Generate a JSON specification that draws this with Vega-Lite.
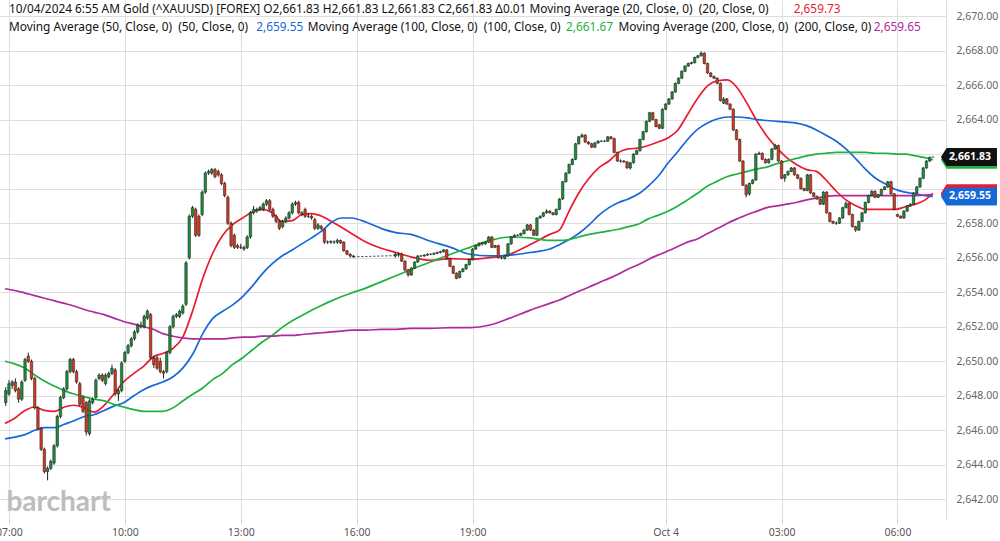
{
"$schema":"https://vega.github.io/schema/vega-lite/v6.json",
"width":946,"height":519,"autosize":"none",
"padding":{"left":0,"top":0,"right":54,"bottom":22},
"background":"white",
"config":{"view":{"stroke":null},"font":"Noto Sans"},
"datasets":{
"candles":[
{"t":"2024-10-03T06:55","o":2647.6,"h":2648.5,"l":2647.4,"c":2648.3},
{"t":"2024-10-03T07:00","o":2648.1,"h":2648.9,"l":2648.0,"c":2648.7},
{"t":"2024-10-03T07:05","o":2648.6,"h":2648.9,"l":2648.4,"c":2648.8},
{"t":"2024-10-03T07:10","o":2648.8,"h":2649.0,"l":2648.2,"c":2648.3},
{"t":"2024-10-03T07:15","o":2648.4,"h":2648.5,"l":2647.6,"c":2647.8},
{"t":"2024-10-03T07:20","o":2647.8,"h":2648.9,"l":2647.7,"c":2648.8},
{"t":"2024-10-03T07:25","o":2648.9,"h":2650.2,"l":2648.8,"c":2650.1},
{"t":"2024-10-03T07:30","o":2650.3,"h":2650.5,"l":2649.9,"c":2650.0},
{"t":"2024-10-03T07:35","o":2650.0,"h":2650.1,"l":2648.9,"c":2649.0},
{"t":"2024-10-03T07:40","o":2649.0,"h":2649.1,"l":2647.2,"c":2647.3},
{"t":"2024-10-03T07:45","o":2647.3,"h":2647.4,"l":2646.0,"c":2646.1},
{"t":"2024-10-03T07:50","o":2646.1,"h":2646.2,"l":2644.8,"c":2644.9},
{"t":"2024-10-03T07:55","o":2644.9,"h":2645.0,"l":2643.5,"c":2643.6},
{"t":"2024-10-03T08:00","o":2643.6,"h":2643.9,"l":2643.1,"c":2643.8},
{"t":"2024-10-03T08:05","o":2643.8,"h":2644.3,"l":2643.7,"c":2644.2},
{"t":"2024-10-03T08:10","o":2644.1,"h":2645.2,"l":2644.0,"c":2645.1},
{"t":"2024-10-03T08:15","o":2645.1,"h":2646.9,"l":2645.0,"c":2646.8},
{"t":"2024-10-03T08:20","o":2646.8,"h":2648.0,"l":2646.7,"c":2647.9},
{"t":"2024-10-03T08:25","o":2647.9,"h":2648.5,"l":2647.8,"c":2648.4},
{"t":"2024-10-03T08:30","o":2648.4,"h":2649.5,"l":2648.3,"c":2649.4},
{"t":"2024-10-03T08:35","o":2649.4,"h":2650.2,"l":2649.3,"c":2650.1},
{"t":"2024-10-03T08:40","o":2650.1,"h":2650.2,"l":2649.3,"c":2649.4},
{"t":"2024-10-03T08:45","o":2649.4,"h":2649.5,"l":2648.7,"c":2648.8},
{"t":"2024-10-03T08:50","o":2648.7,"h":2648.8,"l":2647.4,"c":2647.5},
{"t":"2024-10-03T08:55","o":2647.9,"h":2648.0,"l":2647.0,"c":2647.1},
{"t":"2024-10-03T09:00","o":2647.6,"h":2647.7,"l":2645.7,"c":2645.9},
{"t":"2024-10-03T09:05","o":2645.8,"h":2647.8,"l":2645.7,"c":2647.7},
{"t":"2024-10-03T09:10","o":2647.6,"h":2647.9,"l":2647.5,"c":2647.8},
{"t":"2024-10-03T09:15","o":2647.9,"h":2649.0,"l":2647.8,"c":2648.9},
{"t":"2024-10-03T09:20","o":2649.0,"h":2649.3,"l":2648.9,"c":2649.2},
{"t":"2024-10-03T09:25","o":2649.2,"h":2649.3,"l":2648.8,"c":2648.9},
{"t":"2024-10-03T09:30","o":2648.7,"h":2649.3,"l":2648.6,"c":2649.2},
{"t":"2024-10-03T09:35","o":2649.1,"h":2649.4,"l":2649.0,"c":2649.3},
{"t":"2024-10-03T09:40","o":2649.3,"h":2649.8,"l":2649.2,"c":2649.6},
{"t":"2024-10-03T09:45","o":2649.5,"h":2649.6,"l":2648.0,"c":2648.1},
{"t":"2024-10-03T09:50","o":2648.1,"h":2648.4,"l":2647.7,"c":2648.3},
{"t":"2024-10-03T09:55","o":2648.3,"h":2650.0,"l":2648.2,"c":2649.9},
{"t":"2024-10-03T10:00","o":2650.0,"h":2650.6,"l":2649.9,"c":2650.5},
{"t":"2024-10-03T10:05","o":2650.5,"h":2651.0,"l":2650.4,"c":2650.9},
{"t":"2024-10-03T10:10","o":2650.9,"h":2651.4,"l":2650.8,"c":2651.3},
{"t":"2024-10-03T10:15","o":2651.3,"h":2651.8,"l":2651.2,"c":2651.7},
{"t":"2024-10-03T10:20","o":2651.7,"h":2652.2,"l":2651.6,"c":2652.1},
{"t":"2024-10-03T10:25","o":2652.1,"h":2652.3,"l":2651.9,"c":2652.0},
{"t":"2024-10-03T10:30","o":2652.0,"h":2652.7,"l":2651.9,"c":2652.6},
{"t":"2024-10-03T10:35","o":2652.5,"h":2653.0,"l":2652.4,"c":2652.9},
{"t":"2024-10-03T10:40","o":2652.7,"h":2652.8,"l":2650.1,"c":2650.2},
{"t":"2024-10-03T10:45","o":2650.2,"h":2650.3,"l":2649.6,"c":2649.8},
{"t":"2024-10-03T10:50","o":2650.2,"h":2650.3,"l":2649.5,"c":2649.6},
{"t":"2024-10-03T10:55","o":2650.0,"h":2650.2,"l":2649.3,"c":2649.4},
{"t":"2024-10-03T11:00","o":2649.4,"h":2649.5,"l":2649.0,"c":2649.3},
{"t":"2024-10-03T11:05","o":2649.4,"h":2650.6,"l":2649.3,"c":2650.5},
{"t":"2024-10-03T11:10","o":2650.5,"h":2652.1,"l":2650.4,"c":2652.0},
{"t":"2024-10-03T11:15","o":2652.0,"h":2652.7,"l":2651.9,"c":2652.6},
{"t":"2024-10-03T11:20","o":2652.6,"h":2652.8,"l":2652.5,"c":2652.7},
{"t":"2024-10-03T11:25","o":2652.6,"h":2653.0,"l":2652.5,"c":2652.9},
{"t":"2024-10-03T11:30","o":2652.8,"h":2653.3,"l":2652.7,"c":2653.2},
{"t":"2024-10-03T11:35","o":2653.3,"h":2655.8,"l":2653.2,"c":2655.7},
{"t":"2024-10-03T11:40","o":2656.0,"h":2658.5,"l":2655.9,"c":2658.4},
{"t":"2024-10-03T11:45","o":2658.4,"h":2659.0,"l":2658.3,"c":2658.9},
{"t":"2024-10-03T11:50","o":2658.8,"h":2658.9,"l":2657.2,"c":2657.3},
{"t":"2024-10-03T11:55","o":2658.4,"h":2658.5,"l":2657.2,"c":2657.3},
{"t":"2024-10-03T12:00","o":2658.5,"h":2659.9,"l":2658.4,"c":2659.8},
{"t":"2024-10-03T12:05","o":2659.8,"h":2661.0,"l":2659.7,"c":2660.9},
{"t":"2024-10-03T12:10","o":2660.9,"h":2661.1,"l":2660.8,"c":2661.0},
{"t":"2024-10-03T12:15","o":2660.9,"h":2661.2,"l":2660.8,"c":2661.1},
{"t":"2024-10-03T12:20","o":2661.1,"h":2661.2,"l":2660.6,"c":2660.7},
{"t":"2024-10-03T12:25","o":2661.0,"h":2661.1,"l":2660.7,"c":2660.8},
{"t":"2024-10-03T12:30","o":2660.8,"h":2660.9,"l":2660.2,"c":2660.3},
{"t":"2024-10-03T12:35","o":2660.3,"h":2660.4,"l":2659.5,"c":2659.6},
{"t":"2024-10-03T12:40","o":2659.5,"h":2659.6,"l":2657.9,"c":2658.0},
{"t":"2024-10-03T12:45","o":2658.0,"h":2658.1,"l":2656.6,"c":2656.7},
{"t":"2024-10-03T12:50","o":2657.3,"h":2657.4,"l":2656.5,"c":2656.6},
{"t":"2024-10-03T12:55","o":2656.7,"h":2656.8,"l":2656.5,"c":2656.6},
{"t":"2024-10-03T13:00","o":2656.6,"h":2656.8,"l":2656.5,"c":2656.6},
{"t":"2024-10-03T13:05","o":2656.6,"h":2656.7,"l":2656.4,"c":2656.5},
{"t":"2024-10-03T13:10","o":2656.6,"h":2657.3,"l":2656.5,"c":2657.2},
{"t":"2024-10-03T13:15","o":2657.2,"h":2658.7,"l":2657.1,"c":2658.6},
{"t":"2024-10-03T13:20","o":2658.6,"h":2659.0,"l":2658.5,"c":2658.8},
{"t":"2024-10-03T13:25","o":2658.7,"h":2658.9,"l":2658.6,"c":2658.8},
{"t":"2024-10-03T13:30","o":2658.8,"h":2659.0,"l":2658.7,"c":2658.9},
{"t":"2024-10-03T13:35","o":2658.8,"h":2659.2,"l":2658.7,"c":2659.1},
{"t":"2024-10-03T13:40","o":2659.1,"h":2659.4,"l":2659.0,"c":2659.3},
{"t":"2024-10-03T13:45","o":2659.3,"h":2659.4,"l":2658.7,"c":2658.8},
{"t":"2024-10-03T13:50","o":2658.8,"h":2658.9,"l":2658.3,"c":2658.4},
{"t":"2024-10-03T13:55","o":2658.4,"h":2658.5,"l":2658.0,"c":2658.1},
{"t":"2024-10-03T14:00","o":2658.1,"h":2658.2,"l":2657.6,"c":2657.7},
{"t":"2024-10-03T14:05","o":2657.8,"h":2658.2,"l":2657.7,"c":2658.1},
{"t":"2024-10-03T14:10","o":2658.1,"h":2658.4,"l":2658.0,"c":2658.3},
{"t":"2024-10-03T14:15","o":2658.3,"h":2658.7,"l":2658.2,"c":2658.6},
{"t":"2024-10-03T14:20","o":2658.6,"h":2659.2,"l":2658.5,"c":2659.1},
{"t":"2024-10-03T14:25","o":2659.1,"h":2659.3,"l":2659.0,"c":2659.2},
{"t":"2024-10-03T14:30","o":2659.2,"h":2659.3,"l":2658.5,"c":2658.6},
{"t":"2024-10-03T14:35","o":2658.6,"h":2658.7,"l":2658.4,"c":2658.5},
{"t":"2024-10-03T14:40","o":2658.8,"h":2658.9,"l":2658.3,"c":2658.4},
{"t":"2024-10-03T14:45","o":2658.4,"h":2658.6,"l":2658.3,"c":2658.4},
{"t":"2024-10-03T14:50","o":2658.4,"h":2658.5,"l":2658.2,"c":2658.3},
{"t":"2024-10-03T14:55","o":2658.2,"h":2658.3,"l":2657.6,"c":2657.7},
{"t":"2024-10-03T15:00","o":2657.7,"h":2658.0,"l":2657.6,"c":2657.9},
{"t":"2024-10-03T15:05","o":2657.8,"h":2657.9,"l":2657.6,"c":2657.7},
{"t":"2024-10-03T15:10","o":2657.65,"h":2657.7,"l":2656.8,"c":2656.9},
{"t":"2024-10-03T15:15","o":2656.9,"h":2657.0,"l":2656.8,"c":2656.9},
{"t":"2024-10-03T15:20","o":2656.9,"h":2657.0,"l":2656.8,"c":2656.95},
{"t":"2024-10-03T15:25","o":2656.9,"h":2657.0,"l":2656.8,"c":2656.9},
{"t":"2024-10-03T15:30","o":2656.9,"h":2657.1,"l":2656.8,"c":2657.0},
{"t":"2024-10-03T15:35","o":2657.0,"h":2657.05,"l":2656.8,"c":2656.85},
{"t":"2024-10-03T15:40","o":2656.9,"h":2656.95,"l":2656.35,"c":2656.4},
{"t":"2024-10-03T15:45","o":2656.4,"h":2656.45,"l":2656.15,"c":2656.2},
{"t":"2024-10-03T15:50","o":2656.2,"h":2656.25,"l":2656.0,"c":2656.1},
{"t":"2024-10-03T15:55","o":2656.1,"h":2656.15,"l":2656.0,"c":2656.05},
{"t":"2024-10-03T17:00","o":2656.1,"h":2656.3,"l":2656.0,"c":2656.2},
{"t":"2024-10-03T17:05","o":2656.15,"h":2656.3,"l":2656.05,"c":2656.2},
{"t":"2024-10-03T17:10","o":2656.2,"h":2656.3,"l":2655.75,"c":2655.8},
{"t":"2024-10-03T17:15","o":2655.8,"h":2655.85,"l":2655.2,"c":2655.3},
{"t":"2024-10-03T17:20","o":2655.3,"h":2655.35,"l":2654.9,"c":2655.0},
{"t":"2024-10-03T17:25","o":2655.0,"h":2655.45,"l":2654.95,"c":2655.4},
{"t":"2024-10-03T17:30","o":2655.4,"h":2655.8,"l":2655.35,"c":2655.75},
{"t":"2024-10-03T17:35","o":2655.75,"h":2656.15,"l":2655.7,"c":2656.1},
{"t":"2024-10-03T17:40","o":2656.1,"h":2656.15,"l":2656.05,"c":2656.1},
{"t":"2024-10-03T17:45","o":2656.1,"h":2656.2,"l":2656.05,"c":2656.15},
{"t":"2024-10-03T17:50","o":2656.15,"h":2656.25,"l":2656.1,"c":2656.2},
{"t":"2024-10-03T17:55","o":2656.2,"h":2656.25,"l":2656.15,"c":2656.2},
{"t":"2024-10-03T18:00","o":2656.2,"h":2656.3,"l":2656.15,"c":2656.25},
{"t":"2024-10-03T18:05","o":2656.25,"h":2656.35,"l":2656.2,"c":2656.3},
{"t":"2024-10-03T18:10","o":2656.3,"h":2656.4,"l":2656.25,"c":2656.35},
{"t":"2024-10-03T18:15","o":2656.35,"h":2656.5,"l":2656.3,"c":2656.45},
{"t":"2024-10-03T18:20","o":2656.45,"h":2656.5,"l":2655.9,"c":2655.95},
{"t":"2024-10-03T18:25","o":2655.95,"h":2656.0,"l":2655.45,"c":2655.5},
{"t":"2024-10-03T18:30","o":2655.5,"h":2655.55,"l":2655.05,"c":2655.1},
{"t":"2024-10-03T18:35","o":2655.1,"h":2655.15,"l":2654.75,"c":2654.8},
{"t":"2024-10-03T18:40","o":2654.85,"h":2655.25,"l":2654.8,"c":2655.2},
{"t":"2024-10-03T18:45","o":2655.2,"h":2655.4,"l":2655.15,"c":2655.35},
{"t":"2024-10-03T18:50","o":2655.35,"h":2655.65,"l":2655.3,"c":2655.6},
{"t":"2024-10-03T18:55","o":2655.6,"h":2655.95,"l":2655.55,"c":2655.9},
{"t":"2024-10-03T19:00","o":2655.9,"h":2656.55,"l":2655.85,"c":2656.5},
{"t":"2024-10-03T19:05","o":2656.5,"h":2656.75,"l":2656.45,"c":2656.7},
{"t":"2024-10-03T19:10","o":2656.7,"h":2656.9,"l":2656.65,"c":2656.8},
{"t":"2024-10-03T19:15","o":2656.85,"h":2656.9,"l":2656.7,"c":2656.8},
{"t":"2024-10-03T19:20","o":2656.8,"h":2656.95,"l":2656.75,"c":2656.9},
{"t":"2024-10-03T19:25","o":2656.9,"h":2657.25,"l":2656.85,"c":2657.2},
{"t":"2024-10-03T19:30","o":2657.2,"h":2657.25,"l":2656.55,"c":2656.6},
{"t":"2024-10-03T19:35","o":2656.6,"h":2656.75,"l":2656.55,"c":2656.7},
{"t":"2024-10-03T19:40","o":2656.7,"h":2656.75,"l":2655.95,"c":2656.0},
{"t":"2024-10-03T19:45","o":2656.0,"h":2656.05,"l":2655.9,"c":2656.0},
{"t":"2024-10-03T19:50","o":2655.95,"h":2656.15,"l":2655.9,"c":2656.1},
{"t":"2024-10-03T19:55","o":2656.1,"h":2656.85,"l":2656.05,"c":2656.8},
{"t":"2024-10-03T20:00","o":2656.8,"h":2657.25,"l":2656.75,"c":2657.2},
{"t":"2024-10-03T20:05","o":2657.2,"h":2657.35,"l":2657.15,"c":2657.3},
{"t":"2024-10-03T20:10","o":2657.3,"h":2657.35,"l":2657.25,"c":2657.3},
{"t":"2024-10-03T20:15","o":2657.3,"h":2657.45,"l":2657.25,"c":2657.4},
{"t":"2024-10-03T20:20","o":2657.4,"h":2657.65,"l":2657.35,"c":2657.6},
{"t":"2024-10-03T20:25","o":2657.6,"h":2657.95,"l":2657.55,"c":2657.9},
{"t":"2024-10-03T20:30","o":2657.9,"h":2657.95,"l":2657.55,"c":2657.6},
{"t":"2024-10-03T20:35","o":2657.6,"h":2657.65,"l":2657.25,"c":2657.3},
{"t":"2024-10-03T20:40","o":2657.3,"h":2658.35,"l":2657.25,"c":2658.3},
{"t":"2024-10-03T20:45","o":2658.3,"h":2658.45,"l":2658.25,"c":2658.4},
{"t":"2024-10-03T20:50","o":2658.4,"h":2658.65,"l":2658.35,"c":2658.6},
{"t":"2024-10-03T20:55","o":2658.6,"h":2658.8,"l":2658.55,"c":2658.7},
{"t":"2024-10-03T21:00","o":2658.7,"h":2658.75,"l":2658.55,"c":2658.6},
{"t":"2024-10-03T21:05","o":2658.6,"h":2658.65,"l":2658.45,"c":2658.5},
{"t":"2024-10-03T21:10","o":2658.5,"h":2658.85,"l":2658.45,"c":2658.8},
{"t":"2024-10-03T21:15","o":2658.8,"h":2659.45,"l":2658.75,"c":2659.4},
{"t":"2024-10-03T21:20","o":2659.4,"h":2660.45,"l":2659.35,"c":2660.4},
{"t":"2024-10-03T21:25","o":2660.4,"h":2660.95,"l":2660.35,"c":2660.9},
{"t":"2024-10-03T21:30","o":2660.9,"h":2661.45,"l":2660.85,"c":2661.4},
{"t":"2024-10-03T21:35","o":2661.4,"h":2661.75,"l":2661.35,"c":2661.7},
{"t":"2024-10-03T21:40","o":2661.7,"h":2662.65,"l":2661.65,"c":2662.6},
{"t":"2024-10-03T21:45","o":2662.6,"h":2663.05,"l":2662.55,"c":2663.0},
{"t":"2024-10-03T21:50","o":2663.0,"h":2663.2,"l":2662.95,"c":2663.1},
{"t":"2024-10-03T21:55","o":2663.1,"h":2663.15,"l":2662.65,"c":2662.7},
{"t":"2024-10-03T22:00","o":2662.7,"h":2662.75,"l":2662.55,"c":2662.6},
{"t":"2024-10-03T22:05","o":2662.6,"h":2662.65,"l":2662.35,"c":2662.4},
{"t":"2024-10-03T22:10","o":2662.4,"h":2662.7,"l":2662.35,"c":2662.65},
{"t":"2024-10-03T22:15","o":2662.65,"h":2662.8,"l":2662.6,"c":2662.75},
{"t":"2024-10-03T22:20","o":2662.75,"h":2662.8,"l":2662.7,"c":2662.75},
{"t":"2024-10-03T22:25","o":2662.75,"h":2662.8,"l":2662.7,"c":2662.75},
{"t":"2024-10-03T22:30","o":2662.75,"h":2663.05,"l":2662.7,"c":2663.0},
{"t":"2024-10-03T22:35","o":2663.0,"h":2663.05,"l":2662.85,"c":2662.9},
{"t":"2024-10-03T22:40","o":2662.9,"h":2662.95,"l":2662.05,"c":2662.1},
{"t":"2024-10-03T22:45","o":2662.1,"h":2662.15,"l":2661.55,"c":2661.6},
{"t":"2024-10-03T22:50","o":2661.6,"h":2661.7,"l":2661.5,"c":2661.6},
{"t":"2024-10-03T22:55","o":2661.6,"h":2661.65,"l":2661.5,"c":2661.55},
{"t":"2024-10-03T23:00","o":2661.55,"h":2661.6,"l":2661.15,"c":2661.2},
{"t":"2024-10-03T23:05","o":2661.2,"h":2661.55,"l":2661.1,"c":2661.5},
{"t":"2024-10-03T23:10","o":2661.5,"h":2662.05,"l":2661.45,"c":2662.0},
{"t":"2024-10-03T23:15","o":2662.0,"h":2662.25,"l":2661.95,"c":2662.2},
{"t":"2024-10-03T23:20","o":2662.2,"h":2662.9,"l":2662.15,"c":2662.85},
{"t":"2024-10-03T23:25","o":2662.85,"h":2663.35,"l":2662.8,"c":2663.3},
{"t":"2024-10-03T23:30","o":2663.3,"h":2663.95,"l":2663.25,"c":2663.9},
{"t":"2024-10-03T23:35","o":2663.9,"h":2664.45,"l":2663.85,"c":2664.4},
{"t":"2024-10-03T23:40","o":2664.4,"h":2664.45,"l":2663.95,"c":2664.0},
{"t":"2024-10-03T23:45","o":2664.0,"h":2664.05,"l":2663.55,"c":2663.6},
{"t":"2024-10-03T23:50","o":2663.7,"h":2663.75,"l":2663.45,"c":2663.5},
{"t":"2024-10-03T23:55","o":2663.5,"h":2664.65,"l":2663.45,"c":2664.6},
{"t":"2024-10-04T00:00","o":2664.6,"h":2664.95,"l":2664.55,"c":2664.9},
{"t":"2024-10-04T00:05","o":2664.9,"h":2665.25,"l":2664.85,"c":2665.2},
{"t":"2024-10-04T00:10","o":2665.2,"h":2665.65,"l":2665.15,"c":2665.6},
{"t":"2024-10-04T00:15","o":2665.6,"h":2666.15,"l":2665.55,"c":2666.1},
{"t":"2024-10-04T00:20","o":2666.1,"h":2666.45,"l":2666.05,"c":2666.4},
{"t":"2024-10-04T00:25","o":2666.4,"h":2666.85,"l":2666.35,"c":2666.8},
{"t":"2024-10-04T00:30","o":2666.8,"h":2667.15,"l":2666.75,"c":2667.1},
{"t":"2024-10-04T00:35","o":2667.1,"h":2667.3,"l":2667.05,"c":2667.25},
{"t":"2024-10-04T00:40","o":2667.25,"h":2667.35,"l":2667.2,"c":2667.3},
{"t":"2024-10-04T00:45","o":2667.3,"h":2667.65,"l":2667.25,"c":2667.6},
{"t":"2024-10-04T00:50","o":2667.6,"h":2667.75,"l":2667.55,"c":2667.7},
{"t":"2024-10-04T00:55","o":2667.7,"h":2667.95,"l":2667.65,"c":2667.85},
{"t":"2024-10-04T01:00","o":2667.85,"h":2667.9,"l":2667.2,"c":2667.25},
{"t":"2024-10-04T01:05","o":2667.25,"h":2667.3,"l":2666.65,"c":2666.7},
{"t":"2024-10-04T01:10","o":2666.7,"h":2666.75,"l":2666.45,"c":2666.5},
{"t":"2024-10-04T01:15","o":2666.5,"h":2666.55,"l":2666.35,"c":2666.4},
{"t":"2024-10-04T01:20","o":2666.4,"h":2666.45,"l":2666.05,"c":2666.1},
{"t":"2024-10-04T01:25","o":2666.1,"h":2666.15,"l":2665.05,"c":2665.1},
{"t":"2024-10-04T01:30","o":2664.95,"h":2665.3,"l":2664.9,"c":2665.2},
{"t":"2024-10-04T01:35","o":2665.2,"h":2665.25,"l":2664.85,"c":2664.9},
{"t":"2024-10-04T01:40","o":2664.9,"h":2664.95,"l":2664.55,"c":2664.6},
{"t":"2024-10-04T01:45","o":2664.6,"h":2664.65,"l":2663.35,"c":2663.4},
{"t":"2024-10-04T01:50","o":2663.4,"h":2663.45,"l":2662.8,"c":2662.85},
{"t":"2024-10-04T01:55","o":2662.85,"h":2662.9,"l":2661.55,"c":2661.6},
{"t":"2024-10-04T02:00","o":2661.6,"h":2661.65,"l":2660.15,"c":2660.2},
{"t":"2024-10-04T02:05","o":2660.2,"h":2660.25,"l":2659.5,"c":2659.65},
{"t":"2024-10-04T02:10","o":2659.7,"h":2660.35,"l":2659.6,"c":2660.3},
{"t":"2024-10-04T02:15","o":2660.3,"h":2660.55,"l":2660.25,"c":2660.5},
{"t":"2024-10-04T02:20","o":2660.5,"h":2662.05,"l":2660.45,"c":2662.0},
{"t":"2024-10-04T02:25","o":2662.0,"h":2662.15,"l":2661.95,"c":2662.05},
{"t":"2024-10-04T02:30","o":2662.05,"h":2662.1,"l":2661.65,"c":2661.7},
{"t":"2024-10-04T02:35","o":2661.7,"h":2661.75,"l":2661.45,"c":2661.5},
{"t":"2024-10-04T02:40","o":2661.5,"h":2661.75,"l":2661.45,"c":2661.7},
{"t":"2024-10-04T02:45","o":2661.7,"h":2662.35,"l":2661.65,"c":2662.3},
{"t":"2024-10-04T02:50","o":2662.3,"h":2662.6,"l":2662.25,"c":2662.5},
{"t":"2024-10-04T02:55","o":2662.5,"h":2662.55,"l":2661.55,"c":2661.6},
{"t":"2024-10-04T03:00","o":2661.6,"h":2661.65,"l":2660.55,"c":2660.6},
{"t":"2024-10-04T03:05","o":2660.6,"h":2660.85,"l":2660.4,"c":2660.8},
{"t":"2024-10-04T03:10","o":2660.8,"h":2661.05,"l":2660.75,"c":2661.0},
{"t":"2024-10-04T03:15","o":2661.0,"h":2661.25,"l":2660.95,"c":2661.2},
{"t":"2024-10-04T03:20","o":2661.2,"h":2661.25,"l":2660.75,"c":2660.8},
{"t":"2024-10-04T03:25","o":2660.8,"h":2660.85,"l":2660.55,"c":2660.6},
{"t":"2024-10-04T03:30","o":2660.6,"h":2660.65,"l":2659.95,"c":2660.0},
{"t":"2024-10-04T03:35","o":2660.0,"h":2660.05,"l":2659.85,"c":2659.9},
{"t":"2024-10-04T03:40","o":2659.9,"h":2660.85,"l":2659.85,"c":2660.8},
{"t":"2024-10-04T03:45","o":2660.8,"h":2660.85,"l":2659.7,"c":2659.75},
{"t":"2024-10-04T03:50","o":2659.75,"h":2659.8,"l":2659.5,"c":2659.55},
{"t":"2024-10-04T03:55","o":2659.55,"h":2659.6,"l":2659.35,"c":2659.4},
{"t":"2024-10-04T04:00","o":2659.4,"h":2659.45,"l":2659.05,"c":2659.1},
{"t":"2024-10-04T04:05","o":2659.1,"h":2659.85,"l":2659.05,"c":2659.8},
{"t":"2024-10-04T04:10","o":2659.8,"h":2659.85,"l":2658.55,"c":2658.6},
{"t":"2024-10-04T04:15","o":2658.6,"h":2658.65,"l":2658.05,"c":2658.1},
{"t":"2024-10-04T04:20","o":2658.1,"h":2658.15,"l":2657.95,"c":2658.0},
{"t":"2024-10-04T04:25","o":2658.0,"h":2658.1,"l":2657.9,"c":2658.0},
{"t":"2024-10-04T04:30","o":2658.0,"h":2658.35,"l":2657.95,"c":2658.3},
{"t":"2024-10-04T04:35","o":2658.3,"h":2658.95,"l":2658.25,"c":2658.9},
{"t":"2024-10-04T04:40","o":2658.9,"h":2659.25,"l":2658.85,"c":2659.15},
{"t":"2024-10-04T04:45","o":2659.15,"h":2659.2,"l":2658.45,"c":2658.5},
{"t":"2024-10-04T04:50","o":2658.5,"h":2658.55,"l":2657.75,"c":2657.8},
{"t":"2024-10-04T04:55","o":2657.8,"h":2657.85,"l":2657.5,"c":2657.6},
{"t":"2024-10-04T05:00","o":2657.6,"h":2658.15,"l":2657.55,"c":2658.1},
{"t":"2024-10-04T05:05","o":2658.1,"h":2658.65,"l":2658.05,"c":2658.6},
{"t":"2024-10-04T05:10","o":2658.6,"h":2659.25,"l":2658.55,"c":2659.2},
{"t":"2024-10-04T05:15","o":2659.2,"h":2659.65,"l":2659.15,"c":2659.6},
{"t":"2024-10-04T05:20","o":2659.6,"h":2659.9,"l":2659.55,"c":2659.85},
{"t":"2024-10-04T05:25","o":2659.85,"h":2659.9,"l":2659.45,"c":2659.5},
{"t":"2024-10-04T05:30","o":2659.5,"h":2659.7,"l":2659.45,"c":2659.65},
{"t":"2024-10-04T05:35","o":2659.65,"h":2660.0,"l":2659.6,"c":2659.95},
{"t":"2024-10-04T05:40","o":2659.95,"h":2660.15,"l":2659.9,"c":2660.1},
{"t":"2024-10-04T05:45","o":2660.1,"h":2660.45,"l":2660.05,"c":2660.4},
{"t":"2024-10-04T05:50","o":2660.4,"h":2660.45,"l":2659.65,"c":2659.7},
{"t":"2024-10-04T05:55","o":2659.7,"h":2659.75,"l":2658.75,"c":2658.8},
{"t":"2024-10-04T06:00","o":2658.5,"h":2658.55,"l":2658.35,"c":2658.4},
{"t":"2024-10-04T06:05","o":2658.4,"h":2658.45,"l":2658.25,"c":2658.3},
{"t":"2024-10-04T06:10","o":2658.3,"h":2658.75,"l":2658.25,"c":2658.7},
{"t":"2024-10-04T06:15","o":2658.7,"h":2659.05,"l":2658.65,"c":2659.0},
{"t":"2024-10-04T06:20","o":2659.0,"h":2659.15,"l":2658.95,"c":2659.1},
{"t":"2024-10-04T06:25","o":2659.1,"h":2659.8,"l":2659.05,"c":2659.75},
{"t":"2024-10-04T06:30","o":2659.75,"h":2660.15,"l":2659.7,"c":2660.1},
{"t":"2024-10-04T06:35","o":2660.1,"h":2660.65,"l":2660.05,"c":2660.6},
{"t":"2024-10-04T06:40","o":2660.6,"h":2661.25,"l":2660.55,"c":2661.2},
{"t":"2024-10-04T06:45","o":2661.2,"h":2661.65,"l":2661.15,"c":2661.6},
{"t":"2024-10-04T06:50","o":2661.6,"h":2661.85,"l":2661.55,"c":2661.82},
{"t":"2024-10-04T06:55","o":2661.83,"h":2661.83,"l":2661.83,"c":2661.83}
],
"ma":[
{"t":"2024-10-03T06:54","ma20":2646.4,"ma50":2645.5,"ma100":2650.0,"ma200":2654.2},
{"t":"2024-10-03T07:09","ma20":2646.7,"ma50":2645.6,"ma100":2649.85,"ma200":2654.1},
{"t":"2024-10-03T07:25","ma20":2647.15,"ma50":2645.75,"ma100":2649.6,"ma200":2653.95},
{"t":"2024-10-03T07:40","ma20":2647.35,"ma50":2646.0,"ma100":2649.2,"ma200":2653.8},
{"t":"2024-10-03T07:55","ma20":2647.15,"ma50":2646.15,"ma100":2648.85,"ma200":2653.65},
{"t":"2024-10-03T08:11","ma20":2647.1,"ma50":2646.15,"ma100":2648.55,"ma200":2653.5},
{"t":"2024-10-03T08:26","ma20":2647.35,"ma50":2646.35,"ma100":2648.3,"ma200":2653.35},
{"t":"2024-10-03T08:41","ma20":2647.45,"ma50":2646.55,"ma100":2648.1,"ma200":2653.2},
{"t":"2024-10-03T08:57","ma20":2647.3,"ma50":2646.8,"ma100":2647.95,"ma200":2653.0},
{"t":"2024-10-03T09:12","ma20":2647.05,"ma50":2646.9,"ma100":2647.8,"ma200":2652.85},
{"t":"2024-10-03T09:28","ma20":2647.45,"ma50":2647.15,"ma100":2647.7,"ma200":2652.7},
{"t":"2024-10-03T09:43","ma20":2648.1,"ma50":2647.4,"ma100":2647.5,"ma200":2652.5},
{"t":"2024-10-03T09:58","ma20":2648.8,"ma50":2647.6,"ma100":2647.35,"ma200":2652.3},
{"t":"2024-10-03T10:14","ma20":2649.3,"ma50":2648.0,"ma100":2647.2,"ma200":2652.15},
{"t":"2024-10-03T10:29","ma20":2649.7,"ma50":2648.35,"ma100":2647.1,"ma200":2652.0},
{"t":"2024-10-03T10:44","ma20":2650.25,"ma50":2648.6,"ma100":2647.1,"ma200":2651.85},
{"t":"2024-10-03T10:59","ma20":2650.45,"ma50":2648.8,"ma100":2647.1,"ma200":2651.6},
{"t":"2024-10-03T11:15","ma20":2650.75,"ma50":2649.1,"ma100":2647.3,"ma200":2651.45},
{"t":"2024-10-03T11:30","ma20":2651.4,"ma50":2649.6,"ma100":2647.7,"ma200":2651.35},
{"t":"2024-10-03T11:46","ma20":2653.0,"ma50":2650.45,"ma100":2648.1,"ma200":2651.3},
{"t":"2024-10-03T12:01","ma20":2654.8,"ma50":2651.6,"ma100":2648.45,"ma200":2651.3},
{"t":"2024-10-03T12:17","ma20":2656.3,"ma50":2652.5,"ma100":2648.95,"ma200":2651.3},
{"t":"2024-10-03T12:32","ma20":2657.3,"ma50":2652.9,"ma100":2649.3,"ma200":2651.3},
{"t":"2024-10-03T12:47","ma20":2657.9,"ma50":2653.25,"ma100":2649.8,"ma200":2651.35},
{"t":"2024-10-03T13:03","ma20":2658.3,"ma50":2653.75,"ma100":2650.2,"ma200":2651.4},
{"t":"2024-10-03T13:18","ma20":2658.65,"ma50":2654.35,"ma100":2650.65,"ma200":2651.4},
{"t":"2024-10-03T13:33","ma20":2658.8,"ma50":2655.05,"ma100":2651.1,"ma200":2651.45},
{"t":"2024-10-03T13:49","ma20":2658.6,"ma50":2655.65,"ma100":2651.5,"ma200":2651.45},
{"t":"2024-10-03T14:04","ma20":2658.1,"ma50":2656.1,"ma100":2651.95,"ma200":2651.5},
{"t":"2024-10-03T14:20","ma20":2658.15,"ma50":2656.45,"ma100":2652.35,"ma200":2651.5},
{"t":"2024-10-03T14:35","ma20":2658.5,"ma50":2656.8,"ma100":2652.65,"ma200":2651.55},
{"t":"2024-10-03T14:50","ma20":2658.55,"ma50":2657.15,"ma100":2652.95,"ma200":2651.6},
{"t":"2024-10-03T15:06","ma20":2658.4,"ma50":2657.55,"ma100":2653.25,"ma200":2651.65},
{"t":"2024-10-03T15:21","ma20":2658.1,"ma50":2658.05,"ma100":2653.5,"ma200":2651.7},
{"t":"2024-10-03T15:37","ma20":2657.75,"ma50":2658.3,"ma100":2653.75,"ma200":2651.75},
{"t":"2024-10-03T15:52","ma20":2657.4,"ma50":2658.3,"ma100":2653.95,"ma200":2651.8},
{"t":"2024-10-03T16:15","ma20":2656.9,"ma50":2658.05,"ma100":2654.25,"ma200":2651.8},
{"t":"2024-10-03T16:38","ma20":2656.55,"ma50":2657.7,"ma100":2654.6,"ma200":2651.85},
{"t":"2024-10-03T17:01","ma20":2656.3,"ma50":2657.45,"ma100":2654.95,"ma200":2651.85},
{"t":"2024-10-03T17:24","ma20":2656.05,"ma50":2657.35,"ma100":2655.3,"ma200":2651.9},
{"t":"2024-10-03T17:55","ma20":2655.85,"ma50":2656.95,"ma100":2655.75,"ma200":2651.9},
{"t":"2024-10-03T18:26","ma20":2655.95,"ma50":2656.6,"ma100":2656.2,"ma200":2651.95},
{"t":"2024-10-03T18:56","ma20":2655.9,"ma50":2656.2,"ma100":2656.6,"ma200":2651.95},
{"t":"2024-10-03T19:27","ma20":2656.0,"ma50":2656.1,"ma100":2657.0,"ma200":2652.1},
{"t":"2024-10-03T19:58","ma20":2656.2,"ma50":2656.15,"ma100":2657.2,"ma200":2652.5},
{"t":"2024-10-03T20:29","ma20":2656.75,"ma50":2656.3,"ma100":2657.15,"ma200":2652.95},
{"t":"2024-10-03T21:00","ma20":2657.35,"ma50":2656.5,"ma100":2657.0,"ma200":2653.35},
{"t":"2024-10-03T21:15","ma20":2657.6,"ma50":2656.75,"ma100":2657.0,"ma200":2653.55},
{"t":"2024-10-03T21:30","ma20":2658.7,"ma50":2657.05,"ma100":2657.05,"ma200":2653.8},
{"t":"2024-10-03T21:45","ma20":2659.75,"ma50":2657.4,"ma100":2657.2,"ma200":2654.05},
{"t":"2024-10-03T22:01","ma20":2660.6,"ma50":2657.9,"ma100":2657.35,"ma200":2654.3},
{"t":"2024-10-03T22:16","ma20":2661.2,"ma50":2658.45,"ma100":2657.45,"ma200":2654.55},
{"t":"2024-10-03T22:32","ma20":2661.6,"ma50":2658.9,"ma100":2657.55,"ma200":2654.8},
{"t":"2024-10-03T22:47","ma20":2662.1,"ma50":2659.2,"ma100":2657.65,"ma200":2655.05},
{"t":"2024-10-03T23:02","ma20":2662.3,"ma50":2659.4,"ma100":2657.8,"ma200":2655.35},
{"t":"2024-10-03T23:18","ma20":2662.35,"ma50":2659.7,"ma100":2657.95,"ma200":2655.6},
{"t":"2024-10-03T23:33","ma20":2662.5,"ma50":2660.15,"ma100":2658.25,"ma200":2655.9},
{"t":"2024-10-03T23:48","ma20":2662.7,"ma50":2660.7,"ma100":2658.45,"ma200":2656.15},
{"t":"2024-10-04T00:04","ma20":2662.95,"ma50":2661.5,"ma100":2658.7,"ma200":2656.4},
{"t":"2024-10-04T00:19","ma20":2663.4,"ma50":2662.15,"ma100":2659.0,"ma200":2656.65},
{"t":"2024-10-04T00:34","ma20":2664.3,"ma50":2662.85,"ma100":2659.35,"ma200":2656.9},
{"t":"2024-10-04T00:50","ma20":2665.25,"ma50":2663.45,"ma100":2659.75,"ma200":2657.1},
{"t":"2024-10-04T01:05","ma20":2665.95,"ma50":2663.8,"ma100":2660.15,"ma200":2657.4},
{"t":"2024-10-04T01:21","ma20":2666.25,"ma50":2664.05,"ma100":2660.45,"ma200":2657.7},
{"t":"2024-10-04T01:36","ma20":2666.3,"ma50":2664.15,"ma100":2660.7,"ma200":2658.0},
{"t":"2024-10-04T01:51","ma20":2665.85,"ma50":2664.15,"ma100":2660.85,"ma200":2658.25},
{"t":"2024-10-04T02:07","ma20":2664.9,"ma50":2664.1,"ma100":2661.0,"ma200":2658.5},
{"t":"2024-10-04T02:22","ma20":2663.9,"ma50":2664.0,"ma100":2661.15,"ma200":2658.7},
{"t":"2024-10-04T02:37","ma20":2663.05,"ma50":2663.95,"ma100":2661.25,"ma200":2658.9},
{"t":"2024-10-04T02:53","ma20":2662.35,"ma50":2663.9,"ma100":2661.45,"ma200":2659.0},
{"t":"2024-10-04T03:08","ma20":2661.8,"ma50":2663.85,"ma100":2661.6,"ma200":2659.1},
{"t":"2024-10-04T03:23","ma20":2661.4,"ma50":2663.8,"ma100":2661.75,"ma200":2659.2},
{"t":"2024-10-04T03:39","ma20":2661.1,"ma50":2663.65,"ma100":2661.9,"ma200":2659.35},
{"t":"2024-10-04T03:54","ma20":2661.0,"ma50":2663.4,"ma100":2662.0,"ma200":2659.45},
{"t":"2024-10-04T04:09","ma20":2660.5,"ma50":2663.1,"ma100":2662.05,"ma200":2659.55},
{"t":"2024-10-04T04:25","ma20":2659.85,"ma50":2662.75,"ma100":2662.1,"ma200":2659.6},
{"t":"2024-10-04T04:40","ma20":2659.35,"ma50":2662.3,"ma100":2662.1,"ma200":2659.6},
{"t":"2024-10-04T04:56","ma20":2659.0,"ma50":2661.7,"ma100":2662.1,"ma200":2659.6},
{"t":"2024-10-04T05:11","ma20":2658.8,"ma50":2661.1,"ma100":2662.1,"ma200":2659.6},
{"t":"2024-10-04T05:26","ma20":2658.8,"ma50":2660.6,"ma100":2662.05,"ma200":2659.6},
{"t":"2024-10-04T05:42","ma20":2658.8,"ma50":2660.25,"ma100":2662.05,"ma200":2659.6},
{"t":"2024-10-04T05:57","ma20":2658.8,"ma50":2659.95,"ma100":2662.0,"ma200":2659.6},
{"t":"2024-10-04T06:12","ma20":2658.95,"ma50":2659.8,"ma100":2662.0,"ma200":2659.6},
{"t":"2024-10-04T06:28","ma20":2659.1,"ma50":2659.7,"ma100":2661.9,"ma200":2659.6},
{"t":"2024-10-04T06:43","ma20":2659.35,"ma50":2659.6,"ma100":2661.8,"ma200":2659.62},
{"t":"2024-10-04T06:55","ma20":2659.73,"ma50":2659.55,"ma100":2661.67,"ma200":2659.65}
],
"hdr":[
{"t":"2024-10-03T07:00:00","p":2670.16,"s":"price","txt":"10/04/2024 6:55 AM Gold (^XAUUSD) [FOREX] O2,661.83 H2,661.83 L2,661.83 C2,661.83 Δ0.01 Moving Average (20, Close, 0)\u00a0 (20, Close, 0)"},
{"t":"2024-10-04T03:18:45","p":2670.16,"s":"ma20","txt":"2,659.73"},
{"t":"2024-10-03T07:00:00","p":2669.16,"s":"price","txt":"Moving Average (50, Close, 0)\u00a0 (50, Close, 0)"},
{"t":"2024-10-03T13:24:13","p":2669.16,"s":"ma50","txt":"2,659.55"},
{"t":"2024-10-03T14:44:08","p":2669.16,"s":"price","txt":"Moving Average (100, Close, 0)\u00a0 (100, Close, 0)"},
{"t":"2024-10-03T21:25:15","p":2669.16,"s":"ma100","txt":"2,661.67"},
{"t":"2024-10-03T22:46:44","p":2669.16,"s":"price","txt":"Moving Average (200, Close, 0)\u00a0 (200, Close, 0)"},
{"t":"2024-10-04T05:23:15","p":2669.16,"s":"ma200","txt":"2,659.65"}
],
"badge":[
{"t":"2024-10-04T07:51","s":"ma200","v":2659.65},
{"t":"2024-10-04T07:51","s":"ma20","v":2659.73},
{"t":"2024-10-04T07:51","s":"ma100","v":2661.67},
{"t":"2024-10-04T07:51","s":"ma50","v":2659.55},
{"t":"2024-10-04T07:51","s":"price","v":2661.83}
]
},
"encoding":{
"x":{"field":"t","type":"temporal","title":null,
"scale":{"domain":[{"year":2024,"month":10,"date":3,"hours":6,"minutes":53,"seconds":51},{"year":2024,"month":10,"date":4,"hours":7,"minutes":7,"seconds":37}]},
"axis":{"values":[{"year":2024,"month":10,"date":3,"hours":7},{"year":2024,"month":10,"date":3,"hours":10},{"year":2024,"month":10,"date":3,"hours":13},{"year":2024,"month":10,"date":3,"hours":16},{"year":2024,"month":10,"date":3,"hours":19},{"year":2024,"month":10,"date":4,"hours":0},{"year":2024,"month":10,"date":4,"hours":3},{"year":2024,"month":10,"date":4,"hours":6}],
"labelExpr":"hours(datum.value) === 0 ? 'Oct 4' : timeFormat(datum.value, '%H:%M')",
"grid":true,"gridColor":"#dedede","domain":false,"ticks":true,"tickColor":"#cfcfcf","tickSize":5,
"labelColor":"#555","labelFontSize":10.5,"labelFont":"Noto Sans","labelPadding":3,"labelFlush":false,"labelOverlap":false,"labelBound":false}}
},
"layer":[
{"data":{"values":[{"t":"2024-10-03T06:56:00","p":2641.32,"txt":"barchart"}]},
 "mark":{"type":"text","align":"left","baseline":"alphabetic","font":"Lato","fontSize":28,"fontWeight":"bold","color":"#bdbdbd"},
 "encoding":{"y":{"field":"p","type":"quantitative","title":null,"scale":{"domain":[2640.86,2670.93],"nice":false,"zero":false},
   "axis":{"orient":"right","values":[2642,2644,2646,2648,2650,2652,2654,2656,2658,2660,2662,2664,2666,2668,2670],"labelExpr":"datum.value === 2660 || datum.value === 2662 ? '' : format(datum.value, ',.2f')","grid":true,"gridColor":"#dedede","domain":true,"domainColor":"#dedede","ticks":false,"labelPadding":10,"labelColor":"#666","labelFontSize":10.5,"labelFont":"Noto Sans"}},
  "text":{"field":"txt"}}},
{"data":{"name":"ma"},
 "transform":[{"fold":["ma20","ma50","ma100","ma200"]}],
 "mark":{"type":"line","interpolate":"monotone","strokeWidth":1.7},
 "encoding":{"y":{"field":"value","type":"quantitative","title":null,"scale":{"domain":[2640.86,2670.93],"nice":false,"zero":false},
   "axis":{"orient":"right","values":[2642,2644,2646,2648,2650,2652,2654,2656,2658,2660,2662,2664,2666,2668,2670],"labelExpr":"datum.value === 2660 || datum.value === 2662 ? '' : format(datum.value, ',.2f')","grid":true,"gridColor":"#dedede","domain":true,"domainColor":"#dedede","ticks":false,"labelPadding":10,"labelColor":"#666","labelFontSize":10.5,"labelFont":"Noto Sans"}},
  "color":{"field":"key","type":"nominal","legend":null,"scale":{"domain":["price","ma20","ma50","ma100","ma200"],"range":["#111111","#ea1a32","#1668d8","#1fb141","#b02a9a"]}},
  "detail":{"field":"key"}}},
{"data":{"values":[{"t":"2024-10-03T15:55","p":2656.05},{"t":"2024-10-03T17:00","p":2656.12}]},
 "mark":{"type":"line","strokeDash":[2,2],"color":"#333","strokeWidth":1},
 "encoding":{"y":{"field":"p","type":"quantitative","title":null,"scale":{"domain":[2640.86,2670.93],"nice":false,"zero":false},
   "axis":{"orient":"right","values":[2642,2644,2646,2648,2650,2652,2654,2656,2658,2660,2662,2664,2666,2668,2670],"labelExpr":"datum.value === 2660 || datum.value === 2662 ? '' : format(datum.value, ',.2f')","grid":true,"gridColor":"#dedede","domain":true,"domainColor":"#dedede","ticks":false,"labelPadding":10,"labelColor":"#666","labelFontSize":10.5,"labelFont":"Noto Sans"}}}},
{"data":{"name":"candles"},
 "mark":{"type":"rule","color":"#222","strokeWidth":1},
 "encoding":{"y":{"field":"l","type":"quantitative","title":null,"scale":{"domain":[2640.86,2670.93],"nice":false,"zero":false},
   "axis":{"orient":"right","values":[2642,2644,2646,2648,2650,2652,2654,2656,2658,2660,2662,2664,2666,2668,2670],"labelExpr":"datum.value === 2660 || datum.value === 2662 ? '' : format(datum.value, ',.2f')","grid":true,"gridColor":"#dedede","domain":true,"domainColor":"#dedede","ticks":false,"labelPadding":10,"labelColor":"#666","labelFontSize":10.5,"labelFont":"Noto Sans"}},
  "y2":{"field":"h"}}},
{"data":{"name":"candles"},
 "mark":{"type":"bar","size":2.5,"stroke":"#1a1a1a","strokeWidth":0.5},
 "encoding":{"y":{"field":"o","type":"quantitative","title":null,"scale":{"domain":[2640.86,2670.93],"nice":false,"zero":false},
   "axis":{"orient":"right","values":[2642,2644,2646,2648,2650,2652,2654,2656,2658,2660,2662,2664,2666,2668,2670],"labelExpr":"datum.value === 2660 || datum.value === 2662 ? '' : format(datum.value, ',.2f')","grid":true,"gridColor":"#dedede","domain":true,"domainColor":"#dedede","ticks":false,"labelPadding":10,"labelColor":"#666","labelFontSize":10.5,"labelFont":"Noto Sans"}},
  "y2":{"field":"c"},
  "fill":{"condition":{"test":"datum.c >= datum.o","value":"#1e8c3c"},"value":"#d13b20"}}},
{"data":{"name":"hdr"},
 "mark":{"type":"text","align":"left","baseline":"alphabetic","fontSize":11.85,"font":"Noto Sans"},
 "encoding":{"y":{"field":"p","type":"quantitative","title":null,"scale":{"domain":[2640.86,2670.93],"nice":false,"zero":false},
   "axis":{"orient":"right","values":[2642,2644,2646,2648,2650,2652,2654,2656,2658,2660,2662,2664,2666,2668,2670],"labelExpr":"datum.value === 2660 || datum.value === 2662 ? '' : format(datum.value, ',.2f')","grid":true,"gridColor":"#dedede","domain":true,"domainColor":"#dedede","ticks":false,"labelPadding":10,"labelColor":"#666","labelFontSize":10.5,"labelFont":"Noto Sans"}},
  "text":{"field":"txt"},
  "color":{"field":"s","type":"nominal","legend":null,"scale":{"domain":["price","ma20","ma50","ma100","ma200"],"range":["#111111","#ea1a32","#1668d8","#1fb141","#b02a9a"]}}}},
{"data":{"name":"badge"},
 "mark":{"type":"point","shape":"M-1,0L-0.8,-0.32L1,-0.32L1,0.32L-0.8,0.32Z","size":3136,"filled":true,"opacity":1,"strokeWidth":0},
 "encoding":{
  "y":{"field":"v","type":"quantitative","title":null,"scale":{"domain":[2640.86,2670.93],"nice":false,"zero":false},
   "axis":{"orient":"right","values":[2642,2644,2646,2648,2650,2652,2654,2656,2658,2660,2662,2664,2666,2668,2670],"labelExpr":"datum.value === 2660 || datum.value === 2662 ? '' : format(datum.value, ',.2f')","grid":true,"gridColor":"#dedede","domain":true,"domainColor":"#dedede","ticks":false,"labelPadding":10,"labelColor":"#666","labelFontSize":10.5,"labelFont":"Noto Sans"}},
  "color":{"field":"s","type":"nominal","legend":null,"scale":{"domain":["price","ma20","ma50","ma100","ma200"],"range":["#111111","#ea1a32","#1668d8","#1fb141","#b02a9a"]}}}},
{"data":{"name":"badge"},
 "transform":[{"filter":"datum.s === 'price' || datum.s === 'ma50'"}],
 "mark":{"type":"text","align":"center","baseline":"middle","fontSize":10.5,"fontWeight":"bold","font":"Noto Sans","color":"white","dx":1},
 "encoding":{
  "y":{"field":"v","type":"quantitative","title":null,"scale":{"domain":[2640.86,2670.93],"nice":false,"zero":false},
   "axis":{"orient":"right","values":[2642,2644,2646,2648,2650,2652,2654,2656,2658,2660,2662,2664,2666,2668,2670],"labelExpr":"datum.value === 2660 || datum.value === 2662 ? '' : format(datum.value, ',.2f')","grid":true,"gridColor":"#dedede","domain":true,"domainColor":"#dedede","ticks":false,"labelPadding":10,"labelColor":"#666","labelFontSize":10.5,"labelFont":"Noto Sans"}},
  "text":{"field":"v","format":",.2f"}}}
]
}
